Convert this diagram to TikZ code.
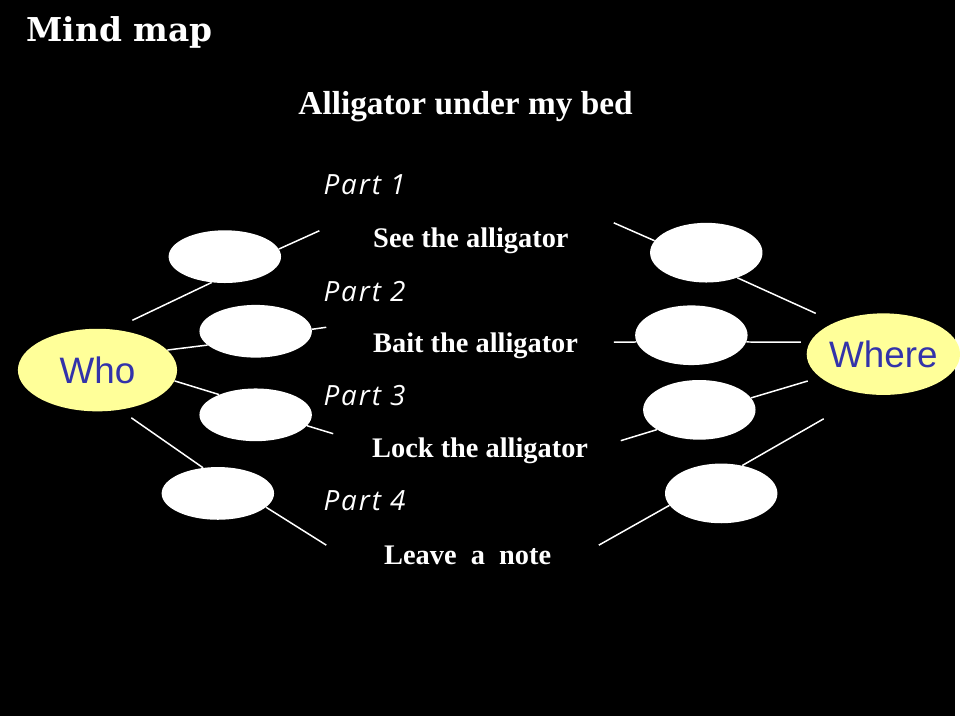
\documentclass[tikz,border=0pt]{standalone}
\usepackage{fontspec}
\setmainfont{Liberation Serif}
\newfontfamily\titlefont{DejaVu Serif}
\newfontfamily\partfont[LetterSpace=7]{Open Sans}
\newfontfamily\armfont{Liberation Sans}
\usepackage{tikz}
\usetikzlibrary{shapes.geometric}
\definecolor{paleyellow}{HTML}{FFFF99}
\definecolor{inkblue}{HTML}{3333AA}

\begin{document}
\begin{tikzpicture}[x=1pt,y=-1pt,
  blank/.style={ellipse,fill=white,minimum width=113pt,minimum height=53pt,inner sep=0pt},
  hub/.style={ellipse,fill=paleyellow,inner sep=0pt,text=inkblue,font=\armfont\fontsize{37}{40}\selectfont},
  partlbl/.style={anchor=west,text=white,inner sep=0pt,font=\partfont\itshape\fontsize{28}{30}\selectfont},
  steplbl/.style={anchor=west,text=white,inner sep=0pt,font=\bfseries\fontsize{28.5}{30}\selectfont},
  link/.style={draw=white,line width=1.5pt}
]
\fill[black] (0,0) rectangle (960,720);
\node[text=white,font=\titlefont\bfseries\fontsize{33}{36}\selectfont] (title) at (120,33) {Mind map};
\node[text=white,font=\bfseries\fontsize{33.5}{36}\selectfont] (story) at (468,107) {Alligator under my bed};

\node[partlbl] (part1) at (325,186) {Part 1};
\node[partlbl] (part2) at (325,293) {Part 2};
\node[partlbl] (part3) at (325,398) {Part 3};
\node[partlbl] (part4) at (325,503) {Part 4};
\node[steplbl] (see) at (375,242) {See the alligator};
\node[steplbl] (bait) at (375,348) {Bait the alligator};
\node[steplbl] (lock) at (374,453) {Lock the alligator};
\node[steplbl] (leave) at (386,558) {Leave\ \ a\ \ note};

\node[hub,minimum width=160pt,minimum height=83pt] (who) at (98,372) {Who};
\node[hub,minimum width=144pt,minimum height=82pt] (where) at (888,356) {Where};

\node[blank] (l1) at (226,258) {};
\node[blank] (l2) at (257,333) {};
\node[blank] (l3) at (257,417) {};
\node[blank] (l4) at (219,496) {};
\node[blank,minimum height=60pt] (r1) at (710,254) {};
\node[blank,minimum height=60pt] (r2) at (695,337) {};
\node[blank,minimum height=60pt] (r3) at (703,412) {};
\node[blank,minimum height=60pt] (r4) at (725,496) {};

% free ends of the branches
\coordinate (wa) at (133,322);
\coordinate (wb) at (132,420);
\coordinate (la) at (321,232);
\coordinate (lb) at (328,329);
\coordinate (lc) at (335,436);
\coordinate (ld) at (328,548);
\coordinate (ra) at (617,224);
\coordinate (rb) at (617,344);
\coordinate (rc) at (624,443);
\coordinate (rd) at (602,548);
\coordinate (ea) at (820,315);
\coordinate (eb) at (805,344);
\coordinate (ec) at (812,383);
\coordinate (ed) at (828,421);

\draw[link] (wa) -- (l1.-117);
\draw[link] (l1.8) -- (la);
\draw[link] (who.16) -- (l2.196);
\draw[link] (l2.2) -- (lb);
\draw[link] (who.-8) -- (l3.151);
\draw[link] (l3.-12) -- (lc);
\draw[link] (wb) -- (l4.120);
\draw[link] (l4.-16) -- (ld);

\draw[link] (ra) -- (r1.167);
\draw[link] (r1.-39) -- (ea);
\draw[link] (rb) -- (r2.187);
\draw[link] (r2.-7) -- (eb);
\draw[link] (rc) -- (r3.205);
\draw[link] (r3.13) -- (ec);
\draw[link] (rd) -- (r4.193);
\draw[link] (r4.53) -- (ed);
\end{tikzpicture}
\end{document}
